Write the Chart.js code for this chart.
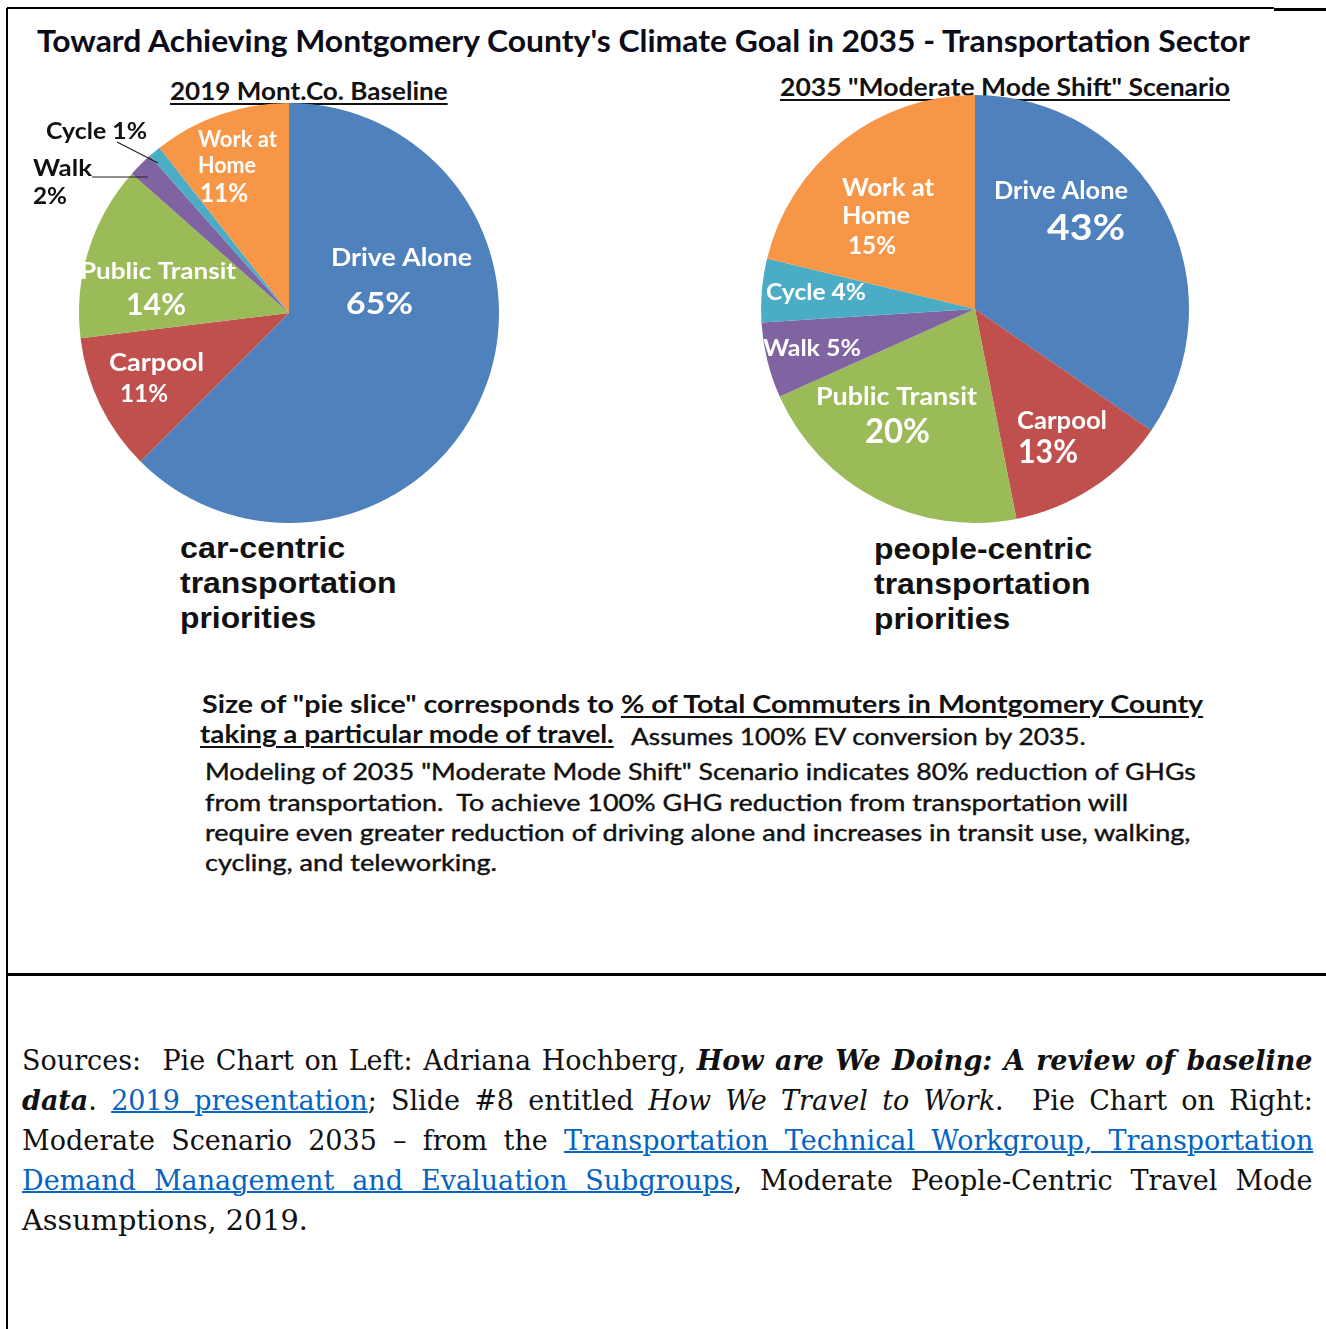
<!DOCTYPE html>
<html>
<head>
<meta charset="utf-8">
<title>Montgomery County Transportation Mode Share</title>
<script src="https://cdn.jsdelivr.net/npm/chart.js@4.4.0/dist/chart.umd.min.js"></script>
<style>
body { margin: 0; background: #fff; width: 1326px; height: 1329px; position: relative; overflow: hidden; font-family: Lato, sans-serif; color: #111; }
.line { position: absolute; background: #000; }
.t { position: absolute; white-space: nowrap; line-height: 1; transform-origin: 0 50%; }
.title { font-weight: bold; font-size: 30px; color: #0d0d1a; }
.sub { font-weight: bold; font-size: 24px; text-decoration: underline; text-decoration-thickness: 2px; text-underline-offset: 3px; }
.prio { font-family: "Liberation Sans", Arial, sans-serif; font-weight: bold; font-size: 29px; }
.note { font-weight: bold; font-size: 25px; }
.note u { text-decoration-thickness: 2px; text-underline-offset: 3px; }
.para { font-size: 23px; -webkit-text-stroke: 0.4px #111; }
.src { font-family: "DejaVu Serif", serif; font-size: 27px; color: #111; }
.src a { color: #0563C1; text-decoration: underline; text-decoration-thickness: 2px; }
canvas { position: absolute; }
</style>
</head>
<body>
<div class="line" style="left:7px;top:7px;width:1267px;height:2px"></div>
<div class="line" style="left:1274px;top:8px;width:52px;height:3px"></div>
<div class="line" style="left:6px;top:8px;width:2px;height:1321px"></div>
<div class="line" style="left:7px;top:973px;width:1319px;height:3px"></div>

<div class="t title" data-x="37" data-y="40" data-w="1213">Toward Achieving Montgomery County's Climate Goal in 2035 - Transportation Sector</div>
<div class="t sub" data-x="170" data-y="91" data-w="278">2019 Mont.Co. Baseline</div>
<div class="t sub" data-x="780" data-y="87" data-w="450">2035 "Moderate Mode Shift" Scenario</div>

<canvas id="pie2019" width="500" height="430" style="left:20px;top:100px"></canvas>
<canvas id="pie2035" width="470" height="440" style="left:740px;top:92px"></canvas>

<div class="t prio" data-x="180" data-y="548" data-w="165">car-centric</div>
<div class="t prio" data-x="180" data-y="583" data-w="217">transportation</div>
<div class="t prio" data-x="180" data-y="618" data-w="136">priorities</div>
<div class="t prio" data-x="874" data-y="549" data-w="218">people-centric</div>
<div class="t prio" data-x="874" data-y="584" data-w="217">transportation</div>
<div class="t prio" data-x="874" data-y="619" data-w="136">priorities</div>

<div class="t note" data-x="202" data-y="703" data-w="1001">Size of "pie slice" corresponds to <u>% of Total Commuters in Montgomery County</u></div>
<div class="t note" data-x="200" data-y="733" data-w="414"><u>taking a particular mode of travel.</u></div>
<div class="t para" data-x="631" data-y="736" data-w="455">Assumes 100% EV conversion by 2035.</div>
<div class="t para" data-x="205" data-y="771" data-w="991">Modeling of 2035 "Moderate Mode Shift" Scenario indicates 80% reduction of GHGs</div>
<div class="t para" data-x="205" data-y="802" data-w="923">from transportation.&nbsp; To achieve 100% GHG reduction from transportation will</div>
<div class="t para" data-x="205" data-y="832" data-w="985">require even greater reduction of driving alone and increases in transit use, walking,</div>
<div class="t para" data-x="205" data-y="862" data-w="292">cycling, and teleworking.</div>

<div class="t src" data-x="22" data-y="1060" data-w="1291" data-j="1">Sources:&nbsp; Pie Chart on Left: Adriana Hochberg, <b><i>How are We Doing: A review of baseline</i></b></div>
<div class="t src" data-x="22" data-y="1100" data-w="1291" data-j="1"><b><i>data</i></b>. <a>2019 presentation</a>; Slide #8 entitled <i>How We Travel to Work</i>.&nbsp; Pie Chart on Right:</div>
<div class="t src" data-x="22" data-y="1140" data-w="1291" data-j="1">Moderate Scenario 2035 – from the <a>Transportation Technical Workgroup, Transportation</a></div>
<div class="t src" data-x="22" data-y="1180" data-w="1291" data-j="1"><a>Demand Management and Evaluation Subgroups</a>, Moderate People-Centric Travel Mode</div>
<div class="t src" data-x="22" data-y="1220" data-w="286">Assumptions, 2019.</div>

<script>
// Commute mode share data
const modes = ['Drive Alone', 'Carpool', 'Public Transit', 'Walk', 'Cycle', 'Work at Home'];
const modeColors = ['#4F81BD', '#C0504D', '#9BBB59', '#8064A2', '#4BACC6', '#F79646'];
const share2019 = [65, 11, 14, 2, 1, 11];
const share2035 = [43, 13, 20, 5, 4, 15];
// slice sizes as they are drawn in the 2035 pie (they don't follow the printed %)
const slice2035 = [34.6, 12.3, 21.4, 5.7, 4.8, 21.2];

const pct = v => v + '%';

// Place html text lines: left x, vertical centre y, fitted to width w
document.querySelectorAll('.t').forEach(el => {
    const w = +el.dataset.w;
    el.style.left = el.dataset.x + 'px';
    el.style.top = (+el.dataset.y - el.offsetHeight / 2) + 'px';
    const natural = el.offsetWidth;
    if (el.dataset.j && natural < w) {
        const spaces = (el.textContent.match(/[ \u00a0]/g) || []).length;
        el.style.wordSpacing = ((w - natural) / spaces) + 'px';
    } else {
        el.style.transform = 'scaleX(' + (w / natural) + ')';
    }
});

// Draws the slice labels and leader lines, positioned from the pie centre
const sliceText = {
    id: 'sliceText',
    afterDraw(chart, args, opts) {
        const arc = chart.getDatasetMeta(0).data[0];
        const cx = arc.x, cy = arc.y;
        const ctx = chart.ctx;
        ctx.save();
        (opts.lines || []).forEach(l => {
            ctx.strokeStyle = '#222';
            ctx.lineWidth = 1.2;
            ctx.beginPath();
            ctx.moveTo(cx + l[0], cy + l[1]);
            ctx.lineTo(cx + l[2], cy + l[3]);
            ctx.stroke();
        });
        opts.items.forEach(it => {
            ctx.font = 'bold ' + it.size + 'px Lato, sans-serif';
            ctx.fillStyle = it.color || '#fff';
            ctx.textBaseline = 'middle';
            const mw = ctx.measureText(it.t).width;
            ctx.save();
            ctx.translate(cx + it.dx, cy + it.dy);
            ctx.scale(it.w / mw, 1);
            ctx.fillText(it.t, 0, 0);
            ctx.restore();
        });
        ctx.restore();
    }
};

function pieConfig(values, padding, items, lines) {
    return {
        type: 'pie',
        data: {
            labels: modes,
            datasets: [{
                data: values,
                backgroundColor: modeColors,
                borderWidth: 0
            }]
        },
        options: {
            responsive: false,
            animation: false,
            devicePixelRatio: 1,
            layout: { padding: padding },
            plugins: {
                legend: { display: false },
                tooltip: { enabled: false },
                sliceText: { items: items, lines: lines }
            }
        },
        plugins: [sliceText]
    };
}

new Chart(document.getElementById('pie2019'), pieConfig(
    share2019,
    { left: 59, right: 21, top: 3, bottom: 7 },
    [
        { t: modes[0], dx: 42, dy: -55, size: 24, w: 141 },
        { t: pct(share2019[0]), dx: 57, dy: -9, size: 31, w: 67 },
        { t: 'Work at', dx: -91, dy: -173, size: 22, w: 79 },
        { t: 'Home', dx: -91, dy: -147, size: 22, w: 58 },
        { t: pct(share2019[5]), dx: -89, dy: -120, size: 27, w: 48 },
        { t: modes[2], dx: -209, dy: -41, size: 23, w: 156 },
        { t: pct(share2019[2]), dx: -163, dy: -8, size: 30, w: 60 },
        { t: modes[1], dx: -180, dy: 50, size: 24, w: 95 },
        { t: pct(share2019[1]), dx: -169, dy: 81, size: 24, w: 48 },
        { t: modes[4] + ' ' + pct(share2019[4]), dx: -243, dy: -181, size: 22, w: 101, color: '#111' },
        { t: modes[3], dx: -256, dy: -144, size: 23, w: 59, color: '#111' },
        { t: pct(share2019[3]), dx: -256, dy: -116, size: 22, w: 34, color: '#111' }
    ],
    [[-172, -171, -131, -150], [-197, -136, -141, -136]]
));

new Chart(document.getElementById('pie2035'), pieConfig(
    slice2035,
    { left: 21, right: 21, top: 3, bottom: 9 },
    [
        { t: modes[0], dx: 19, dy: -118, size: 25, w: 134 },
        { t: pct(share2035[0]), dx: 72, dy: -81, size: 37, w: 78 },
        { t: 'Work at', dx: -133, dy: -121, size: 24, w: 92 },
        { t: 'Home', dx: -133, dy: -93, size: 24, w: 68 },
        { t: pct(share2035[5]), dx: -127, dy: -63, size: 24, w: 48 },
        { t: modes[4] + ' ' + pct(share2035[4]), dx: -209, dy: -16, size: 22, w: 100 },
        { t: modes[3] + ' ' + pct(share2035[3]), dx: -212, dy: 40, size: 22, w: 98 },
        { t: modes[2], dx: -159, dy: 88, size: 24, w: 161 },
        { t: pct(share2035[2]), dx: -110, dy: 123, size: 35, w: 65 },
        { t: modes[1], dx: 42, dy: 112, size: 25, w: 90 },
        { t: pct(share2035[1]), dx: 43, dy: 144, size: 32, w: 60 }
    ],
    []
));
</script>
</body>
</html>
